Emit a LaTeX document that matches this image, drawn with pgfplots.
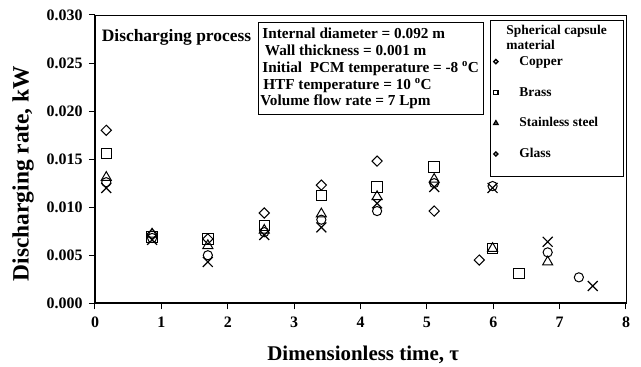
\documentclass[border=0pt]{standalone}
\usepackage{fontspec}
\setmainfont{Liberation Serif}
\usepackage{pgfplots}
\pgfplotsset{compat=1.18}
\begin{document}
\begin{tikzpicture}
\path[use as bounding box] (-95bp,-63.7bp) rectangle (546bp,303.3bp);
\begin{axis}[
  at={(0,0)}, anchor=south west,
  scale only axis, width=531bp, height=288.3bp,
  xmin=0, xmax=8, ymin=0, ymax=0.03,
  clip=false,
  xtick={0,1,2,3,4,5,6,7,8},
  ytick={0,0.005,0.010,0.015,0.020,0.025,0.030},
  tick pos=left, tick align=outside, major tick length=6bp,
  every tick/.style={black, line width=1bp},
  axis line style={line width=0.9bp},
  scaled y ticks=false,
  /pgf/number format/assume math mode=true,
  yticklabel style={xshift=-3bp, /pgf/number format/.cd, fixed, fixed zerofill, precision=3},
  xticklabel style={yshift=-4bp},
  tick label style={font=\fontsize{16}{18}\selectfont\bfseries},
  xlabel={Dimensionless time, τ},
  ylabel={Discharging rate, kW},
  xlabel style={font=\fontsize{21}{24}\selectfont\bfseries, at={(axis description cs:0.505,-0.1967)}, anchor=base},
  ylabel style={font=\fontsize{23.5}{26}\selectfont\bfseries, at={(axis description cs:-0.1356,0.45)}, anchor=center},
  legend style={at={(axis description cs:0.7439,0.9827)}, anchor=north west,
    draw=black, line width=0.8bp, inner xsep=3bp, inner ysep=3bp,
    font=\fontsize{13.5}{15}\selectfont\bfseries,
    row sep=17.8bp, column sep=21bp,
    nodes={inner sep=0pt, text height=10bp, text depth=3bp},
    cells={anchor=base west, align=left}},
  legend image code/.code={\path (-2bp,0bp) (2bp,0bp);
    \draw[#1,line width=1.4bp,/tikz/every mark/.append style={scale=0.42}] plot coordinates {(0bp,3.8bp)};},
]
\draw[line width=1.8bp] (rel axis cs:0,1) -- (rel axis cs:0,0) -- (rel axis cs:1,0);

\addlegendimage{empty legend}
\addlegendentry[text height=14.2bp, text depth=0bp]{\hspace*{-13bp}\raisebox{-11.8bp}{\begin{tabular}[b]{@{}l@{}}Spherical capsule\hspace*{13bp}\mbox{}\\material\end{tabular}}}

\addplot[only marks, mark=square, mark size=3.6bp, line width=1bp, mark options={rotate=45}] coordinates {
(0.17,0.0180) (0.86,0.0072) (1.70,0.0067) (2.55,0.0094) (3.41,0.0123) (4.25,0.0148) (5.11,0.0096) (5.79,0.0045)};
\addlegendentry{Copper}

\addplot[only marks, mark=square, mark size=5.2bp, line width=1bp] coordinates {
(0.17,0.0156) (0.86,0.0069) (1.70,0.0067) (2.55,0.0081) (3.41,0.0112) (4.25,0.0121) (5.11,0.0142) (5.99,0.0057) (6.39,0.0031)};
\addlegendentry{Brass}

\addplot[only marks, mark=triangle, mark size=5.8bp, line width=1bp] coordinates {
(0.17,0.0131) (0.86,0.0072) (1.70,0.0060) (2.55,0.0076) (3.41,0.0093) (4.25,0.0111) (5.11,0.0129) (5.99,0.0057) (6.82,0.0043)};
\addlegendentry{Stainless steel}

\addplot[only marks, mark=o, mark size=4.6bp, line width=1bp] coordinates {
(0.17,0.0126) (0.86,0.0068) (1.70,0.0050) (2.55,0.0074) (3.41,0.0087) (4.25,0.0096) (5.11,0.0125) (5.99,0.0122) (6.82,0.0053) (7.29,0.0027)};
\addlegendentry[text depth=16bp]{Glass}

\addplot[only marks, mark=x, mark size=7bp, line width=1.2bp, forget plot] coordinates {
(0.17,0.0120) (0.86,0.0066) (1.70,0.0043) (2.55,0.0071) (3.41,0.0079) (4.25,0.0104) (5.11,0.0121) (5.99,0.0120) (6.82,0.0064) (7.50,0.0018)};

\node[anchor=base west, font=\fontsize{17.5}{20}\selectfont\bfseries, inner sep=0pt] at (axis cs:0.10,0.02722) {Discharging process};

\node[draw, line width=0.8bp, anchor=north west, align=left, inner xsep=4bp, inner ysep=5.5bp,
  font=\fontsize{15.3}{17}\selectfont\bfseries] at (axis cs:2.455,0.0293) {%
Internal diameter = 0.092 m\\
\hspace*{2.5bp}Wall thickness = 0.001 m\\
Initial\ \ PCM temperature = -8 \textsuperscript{o}C\\
\hspace*{1bp}HTF temperature = 10 \textsuperscript{o}C\\
\hspace*{-2bp}Volume flow rate = 7 Lpm};
\end{axis}
\end{tikzpicture}
\end{document}
